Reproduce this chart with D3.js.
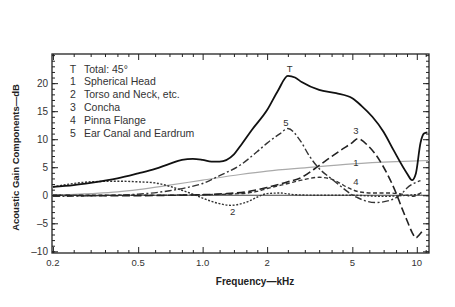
<!DOCTYPE html>
<html><head><meta charset="utf-8">
<script src="https://cdn.jsdelivr.net/npm/d3@7"></script>
<style>
html,body{margin:0;padding:0;background:#fff;}
svg{display:block;font-family:"Liberation Sans",Arial,sans-serif;}
</style></head>
<body><svg id="c" width="455" height="307"></svg>
<script>
// ---- data (frequency in kHz, gain in dB) ----
const totalF = [0.2,0.25,0.3,0.4,0.5,0.6,0.7,0.8,0.9,1.0,1.1,1.2,1.4,1.5,1.7,2.0,2.25,2.5,2.7,2.9,3.5,4.2,5.0,5.5,6.2,7.0,7.8,9.0,9.5,9.9,10.4,10.8,11.2];
const totalV = [1.5,1.8,2.2,3.0,3.9,4.7,5.6,6.3,6.5,6.3,6.0,6.0,7.3,8.8,11.7,15.2,18.7,21.3,21.0,20.2,18.8,18.2,17.3,16.0,14.0,11.3,8.0,3.9,2.7,3.9,9.3,11.0,11.2];

const headF = [0.2,0.3,0.4,0.5,0.7,1.0,1.5,2.0,3.0,5.0,8.0,11.4];
const headV = [0.0,0.3,0.6,1.0,1.8,2.7,3.7,4.3,4.9,5.6,6.0,6.2];

const torsoF = [0.2,0.25,0.3,0.4,0.5,0.6,0.7,0.8,0.9,1.0,1.1,1.2,1.35,1.55,1.7,1.85,2.0,2.3,2.7,3.5,5.0,7.0,9.0,10.5];
const torsoV = [1.5,2.1,2.4,2.5,2.4,2.2,1.6,0.9,0.2,-0.5,-1.1,-1.5,-1.8,-1.4,-0.8,-0.1,0.3,0.4,0.1,0.0,0.0,-0.2,0.0,0.2];

const conchaF = [0.2,0.4,0.7,1.0,1.3,1.6,2.0,2.5,2.9,3.3,3.8,4.4,5.0,5.3,6.0,6.5,7.0,7.5,8.0,8.5,9.0,9.5,9.9,10.3,10.7];
const conchaV = [0.0,-0.1,0.0,0.1,0.3,0.6,1.4,2.4,3.2,4.6,6.3,8.0,9.4,10.1,8.6,7.0,5.0,2.8,0.4,-2.2,-4.5,-6.6,-7.6,-7.0,-6.2];

const flangeF = [0.2,0.5,1.0,1.5,1.8,2.0,2.5,2.9,3.5,3.9,4.3,4.8,5.4,6.2,7.5,8.5,9.5,10.0,10.5];
const flangeV = [0.0,0.0,0.1,0.3,0.7,1.2,2.1,2.7,3.2,3.0,2.3,1.3,0.6,0.4,0.4,0.2,-0.2,0.0,0.5];

const canalF = [0.2,0.3,0.5,0.7,0.85,1.0,1.2,1.5,1.8,2.0,2.3,2.5,2.85,3.15,3.4,4.1,5.2,6.4,7.5,8.5,9.0,10.4];
const canalV = [-0.2,-0.1,0.2,0.8,1.4,2.1,3.5,5.4,7.8,9.3,11.0,11.9,9.8,7.0,5.3,2.6,-0.3,-1.3,-0.9,0.3,1.3,2.6];

const legendKeys = ["T","1","2","3","4","5"];
const legendNames = ["Total: 45°","Spherical Head","Torso and Neck, etc.","Concha","Pinna Flange","Ear Canal and Eardrum"];

const xTickLabels = ["0.2","0.5","1.0","2","5","10"];
const xTickValues = [0.2,0.5,1,2,5,10];
const xMinorTicks = [0.25,0.3,0.35,0.4,0.45,0.6,0.7,0.8,0.9,1.2,1.4,1.6,1.8,2.5,3,3.5,4,4.5,6,7,8,9,11];
const yTickValues = [-10,-5,0,5,10,15,20];
const yMinorTicks = d3.range(-10,26,1);

// curve label anchors (kHz, dB)
const curveLabelF = [2.55,5.2,1.38,5.2,5.2,2.45];
const curveLabelV = [22.6,5.8,-2.9,11.5,2.4,12.9];

// ---- drawing ----
const svg = d3.select("#c");
const L=52,R=429,T=54,B=253;
const x = d3.scaleLog().domain([0.198,11.4]).range([L,R]);
const y = d3.scaleLinear().domain([-10.3,25.2]).range([B,T]);
const ink = "#222";

// zero line
svg.append("line").attr("x1",L).attr("x2",R).attr("y1",y(0)).attr("y2",y(0))
  .attr("stroke","#444").attr("stroke-width",1);

// axes (ticks inward)
const gB = svg.append("g").attr("transform",`translate(0,${B})`);
gB.call(d3.axisTop(x).tickValues(xMinorTicks).tickSize(3).tickFormat(""));
gB.call(g=>g.append("g").call(d3.axisTop(x).tickValues(xTickValues).tickSize(6).tickFormat("")));
const gT = svg.append("g").attr("transform",`translate(0,${T})`);
gT.call(d3.axisBottom(x).tickValues(xMinorTicks).tickSize(3).tickFormat(""));
gT.call(g=>g.append("g").call(d3.axisBottom(x).tickValues(xTickValues).tickSize(6).tickFormat("")));
const gL = svg.append("g").attr("transform",`translate(${L},0)`);
gL.call(d3.axisRight(y).tickValues(yMinorTicks).tickSize(3).tickFormat(""));
gL.call(g=>g.append("g").call(d3.axisRight(y).tickValues(yTickValues).tickSize(6).tickFormat("")));
const gR = svg.append("g").attr("transform",`translate(${R},0)`);
gR.call(d3.axisLeft(y).tickValues(yMinorTicks).tickSize(3).tickFormat(""));
gR.call(g=>g.append("g").call(d3.axisLeft(y).tickValues(yTickValues).tickSize(6).tickFormat("")));
svg.selectAll(".domain").remove();
svg.selectAll(".tick line").attr("stroke",ink).attr("stroke-width",1);

// frame
svg.append("rect").attr("x",L).attr("y",T).attr("width",R-L).attr("height",B-T)
  .attr("fill","none").attr("stroke",ink).attr("stroke-width",1.3);

// tick labels
svg.append("g").selectAll("text").data(xTickValues).join("text")
  .attr("x",d=>x(d)).attr("y",B+13).attr("text-anchor","middle")
  .attr("font-size",9.5).attr("fill","#333").text((d,i)=>xTickLabels[i]);
svg.append("g").selectAll("text").data(yTickValues).join("text")
  .attr("x",L-4).attr("y",d=>y(d)).attr("dy","0.35em").attr("text-anchor","end")
  .attr("font-size",10).attr("fill","#333").text(d=>d<0?"\u2013"+Math.abs(d):String(d));

// axis titles
svg.append("text").attr("x",255).attr("y",285).attr("text-anchor","middle")
  .attr("font-size",10).attr("font-weight","bold").attr("fill","#222").text("Frequency\u2014kHz");
svg.append("text").attr("transform",`translate(19,${(T+B)/2+4}) rotate(-90)`).attr("text-anchor","middle")
  .attr("font-size",9.5).attr("font-weight","bold").attr("fill","#222").text("Acoustic Gain Components\u2014dB");

// curves
const line = d3.line().x(d=>x(d[0])).y(d=>y(d[1])).curve(d3.curveMonotoneX);
const series = [
  {f:headF, v:headV, color:"#aaa", w:1.2, dash:null},
  {f:torsoF, v:torsoV, color:"#333", w:1.4, dash:"2,1.6"},
  {f:flangeF, v:flangeV, color:"#333", w:1.4, dash:"4,2.5"},
  {f:canalF, v:canalV, color:"#333", w:1.4, dash:"7,2.5,2,2.5"},
  {f:conchaF, v:conchaV, color:"#222", w:1.6, dash:"8,3.5"},
  {f:totalF, v:totalV, color:"#111", w:1.8, dash:null}
];
series.forEach(s=>{
  svg.append("path").datum(s.f.map((f,i)=>[f,s.v[i]]))
    .attr("d",line).attr("fill","none").attr("stroke",s.color)
    .attr("stroke-width",s.w).attr("stroke-dasharray",s.dash);
});

// curve labels
svg.append("g").selectAll("text").data(legendKeys).join("text")
  .attr("x",(d,i)=>x(curveLabelF[i])).attr("y",(d,i)=>y(curveLabelV[i])).attr("dy","0.35em")
  .attr("text-anchor","middle").attr("font-size",9.5).attr("fill","#333").text(d=>d);

// legend
const lg = svg.append("g");
legendKeys.forEach((k,i)=>{
  const yy = 69 + i*12.8;
  lg.append("text").attr("x",73).attr("y",yy).attr("dy","0.35em").attr("text-anchor","middle")
    .attr("font-size",10.5).attr("fill","#333").text(k);
  lg.append("text").attr("x",84).attr("y",yy).attr("dy","0.35em")
    .attr("font-size",10.5).attr("fill","#333").text(legendNames[i]);
});
</script></body></html>
